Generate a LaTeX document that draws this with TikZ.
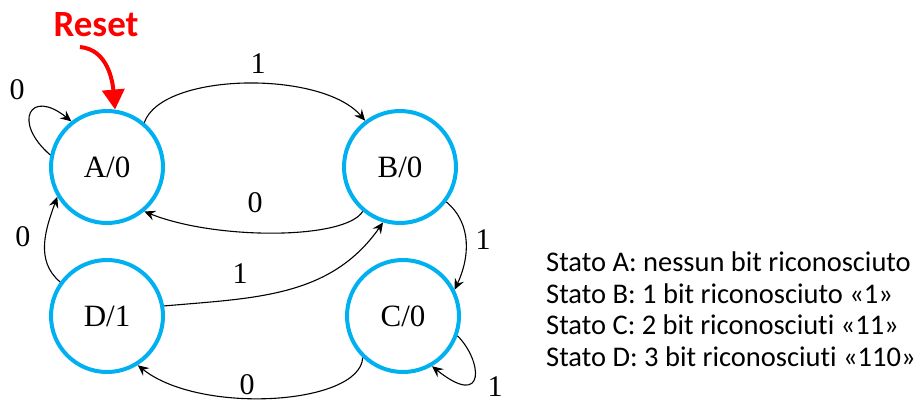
\documentclass[tikz,border=0pt]{standalone}
\usepackage{fontspec}
\setmainfont{Liberation Serif}
\newfontfamily\calib[Ligatures={NoCommon}]{Carlito}
\usetikzlibrary{arrows.meta}
\definecolor{stcyan}{HTML}{00B0F0}
\definecolor{rstred}{HTML}{FF0000}
\begin{document}
\begin{tikzpicture}[x=1pt,y=1pt,
  state/.style={circle,draw=stcyan,line width=4pt,minimum size=112pt,inner sep=0pt,font=\fontsize{31}{31}\selectfont},
  trans/.style={line width=1.1pt,-{Stealth[length=11pt,width=10pt,inset=4pt]}},
  lbl/.style={font=\fontsize{30}{30}\selectfont,inner sep=0pt}]
\useasboundingbox (0,0) rectangle (920,-408);
\node[state] (A) at (107,-167) {A/0};
\node[state] (B) at (400,-167) {B/0};
\node[state] (D) at (107,-316) {D/1};
\node[state] (C) at (403,-316) {C/0};
% reset
\coordinate (rs) at (80,-47);
\node[font=\calib\bfseries\fontsize{37}{37}\selectfont,text=rstred,inner sep=0pt] (reset) at (96,-25) {Reset};
\draw[rstred,line width=4pt,-{Triangle[width=22pt,length=20pt]}] (rs) to[out=-5,in=95] (A.82);
% transitions
\draw[trans] (A.168) .. controls (12,-122) and (30,-88) .. (A.128);
\node[lbl] (l1) at (17,-90) {0};
\draw[trans] (A.50) .. controls (162,-72) and (322,-70) .. (B.127);
\node[lbl] (l2) at (258,-64) {1};
\draw[trans] (B.230) .. controls (345,-240) and (215,-240) .. (A.-50);
\node[lbl] (l3) at (255,-203) {0};
\draw[trans] (D.144) to[out=140,in=-110] (A.211);
\node[lbl] (l4) at (23,-237) {0};
\draw[trans] (D.10) to[out=5,in=-125] (B.253);
\node[lbl] (l5) at (240,-274) {1};
\draw[trans] (B.-37) to[out=-40,in=65] (C.27);
\node[lbl] (l6) at (483,-240) {1};
\draw[trans] (C.226) .. controls (360,-405) and (200,-415) .. (D.-58);
\node[lbl] (l7) at (247,-385) {0};
\draw[trans] (C.-20) .. controls (482,-360) and (487,-410) .. (C.-60);
\node[lbl] (l8) at (495,-387) {1};
% legend
\node[anchor=north west,align=left,inner sep=0pt,font=\calib\fontsize{28.5}{31.5}\selectfont] (leg) at (546,-252) {Stato A: nessun bit riconosciuto\\Stato B: 1 bit riconosciuto «1»\\Stato C: 2 bit riconosciuti «11»\\Stato D: 3 bit riconosciuti «110»};
\end{tikzpicture}
\end{document}
